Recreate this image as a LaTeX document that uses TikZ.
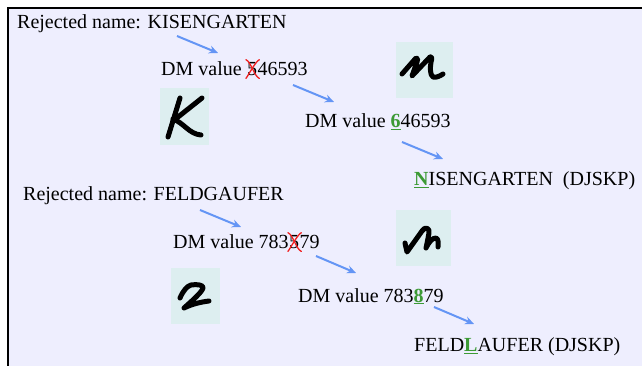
\documentclass[tikz,border=0pt]{standalone}
\usepackage{fontspec}
\setmainfont{Liberation Serif}
\usetikzlibrary{arrows.meta}

\definecolor{pagebg}{HTML}{EEEEFE}
\definecolor{glyphbg}{HTML}{DDEEF0}
\definecolor{arrowblue}{HTML}{6495F5}
\definecolor{fixgreen}{HTML}{3C9A35}
\definecolor{crossred}{HTML}{F02020}

% the corrected character: bold, green, underlined
\newcommand\fixed[1]{\textcolor{fixgreen}{\underline{\textbf{#1}}}}

\tikzset{
  txt/.style={anchor=base west, inner sep=0pt, font=\fontsize{20}{24}\selectfont},
  flow/.style={draw=arrowblue, line width=2pt, -{Stealth[length=9pt,width=8pt]}},
  glyphbox/.style={fill=glyphbg, draw=none, inner sep=0pt, anchor=north west},
  pen/.style={line width=5pt, line cap=round, line join=round},
  crossout/.style={draw=crossred, line width=1.3pt, line cap=round}
}

\begin{document}
\begin{tikzpicture}[x=1pt,y=-1pt]
  % page and panel
  \fill[white] (0,0) rectangle (643,366);
  \useasboundingbox (0,0) rectangle (643,366);
  \fill[pagebg] (8,8) rectangle (642,366);
  \draw[line width=2pt] (8,366) -- (8,8) -- (642,8);

  % ---- first name: KISENGARTEN -> NISENGARTEN
  \node[txt] (rej1) at (17,29) {Rejected name: KISENGARTEN};
  \node[txt] (dm1a) at (161,76) {DM value};
  \node[txt, xshift=5pt] (x1) at (dm1a.base east) {5};
  \node[txt] (dm1r) at (x1.base east) {46593};
  \draw[crossout] ([shift={(-1,-3)}]x1.north west) .. controls ([shift={(4,-1)}]x1.north west) and ([shift={(-3,0)}]x1.south east) .. ([shift={(2,2)}]x1.south east);
  \draw[crossout] ([shift={(2,-3)}]x1.north east) .. controls ([shift={(-2,-1)}]x1.north east) and ([shift={(2,-2)}]x1.south west) .. ([shift={(-1,2)}]x1.south west);
  \node[txt] (dm1b) at (305,128) {DM value \fixed{6}46593};
  \node[txt] (res1) at (414,186) {\fixed{N}ISENGARTEN\ \ (DJSKP)};

  \coordinate (a1s) at (177,36);  \coordinate (a1e) at (218,53);
  \coordinate (a2s) at (293,85);  \coordinate (a2e) at (334,102);
  \coordinate (a3s) at (402,142); \coordinate (a3e) at (443,159);
  \draw[flow] (a1s) -- (a1e);
  \draw[flow] (a2s) -- (a2e);
  \draw[flow] (a3s) -- (a3e);

  % handwritten K
  \node[glyphbox, minimum width=49pt, minimum height=57pt] (kbox) at (160,88) {};
  \draw[pen] (180,98) -- (168,137);
  \draw[pen] (173,121) -- (202,98);
  \draw[pen] (173,119) .. controls (184,123) and (189,134) .. (201,135);

  % handwritten u
  \node[glyphbox, minimum width=57pt, minimum height=56pt] (ubox) at (396,42) {};
  \draw[pen] (402,74) -- (416,58)
             .. controls (418,57) and (418,60) .. (417,62)
             -- (412,76) -- (430,57)
             .. controls (432,56) and (432,59) .. (431,62)
             .. controls (430,68) and (430,75) .. (433,77)
             .. controls (436,78) and (440,76) .. (443,74);

  % ---- second name: FELDGAUFER -> FELDLAUFER
  \node[txt] (rej2) at (23,201) {Rejected name: FELDGAUFER};
  \node[txt] (dm2a) at (173,249) {DM value 783};
  \node[txt] (x2) at (dm2a.base east) {5};
  \node[txt] (dm2r) at (x2.base east) {79};
  \draw[crossout] ([shift={(-1,-3)}]x2.north west) .. controls ([shift={(4,-1)}]x2.north west) and ([shift={(-3,0)}]x2.south east) .. ([shift={(2,2)}]x2.south east);
  \draw[crossout] ([shift={(2,-3)}]x2.north east) .. controls ([shift={(-2,-1)}]x2.north east) and ([shift={(2,-2)}]x2.south west) .. ([shift={(-1,2)}]x2.south west);
  \node[txt] (dm2b) at (298,302) {DM value 783\fixed{8}79};
  \node[txt] (res2) at (414,352) {FELD\fixed{L}AUFER (DJSKP)};

  \coordinate (b1s) at (200,210); \coordinate (b1e) at (241,227);
  \coordinate (b2s) at (316,256); \coordinate (b2e) at (356,273);
  \coordinate (b3s) at (434,307); \coordinate (b3e) at (474,324);
  \draw[flow] (b1s) -- (b1e);
  \draw[flow] (b2s) -- (b2e);
  \draw[flow] (b3s) -- (b3e);

  % handwritten r
  \node[glyphbox, minimum width=55pt, minimum height=56pt] (rbox) at (396,210) {};
  \draw[pen] (405,243) -- (407,252)
             -- (422,231)
             .. controls (425,226) and (430,228) .. (429,233)
             .. controls (428,238) and (427,244) .. (426,248)
             .. controls (429,242) and (432,238) .. (436,238)
             .. controls (439,239) and (438,244) .. (438,247);

  % handwritten z
  \node[glyphbox, minimum width=49pt, minimum height=56pt] (zbox) at (171,268) {};
  \draw[pen] (180,298) .. controls (183,291) and (187,286) .. (191,285)
             .. controls (197,284) and (204,285) .. (203,288)
             .. controls (202,292) and (193,300) .. (184,308)
             .. controls (192,304) and (201,302) .. (209,301);
\end{tikzpicture}
\end{document}
